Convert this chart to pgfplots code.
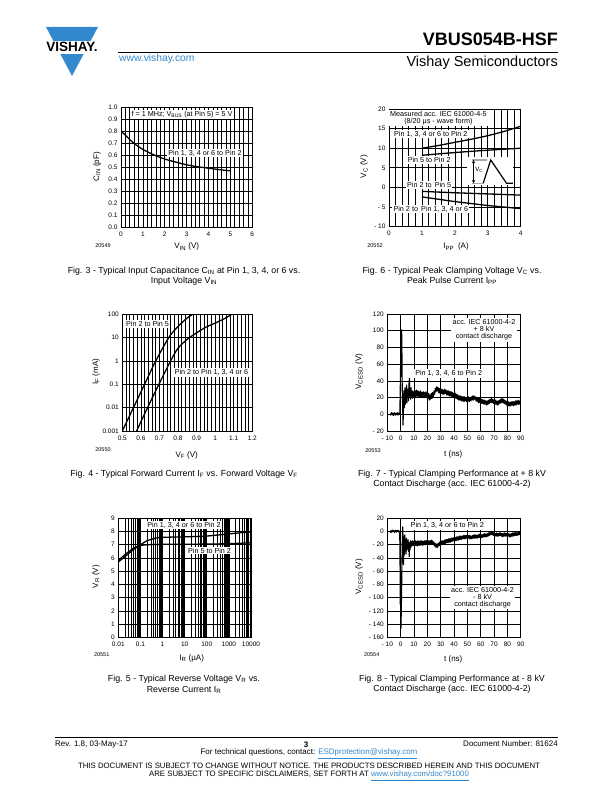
\documentclass[border=0pt]{standalone}
\usepackage{fontspec}
\setmainfont{Liberation Sans}
\usepackage{pgfplots}
\pgfplotsset{compat=1.18}
\definecolor{vblue}{RGB}{52,136,206}
\newcommand{\fs}[1]{\fontsize{#1}{#1}\selectfont}
\pgfplotsset{
  ds/.style={
    scale only axis, anchor=south west,
    axis line style={line width=0.9pt},
    major tick length=0pt, minor tick length=0pt,
    grid=major,
    major grid style={black,line width=0.7pt},
    minor grid style={black,line width=0.6pt},
    tick label style={font=\fs{6.5}},
    /pgf/number format/assume math mode=true,
    xticklabel style={yshift=-1pt},
    every axis plot/.append style={black, line width=1.3pt, mark=none},
  },
}
\tikzset{lab/.style={fill=white, inner sep=1.2pt, font=\fs{7.2}, align=center}}
\begin{document}
\begin{tikzpicture}[x=1pt,y=1pt]
\fill[white] (0,0) rectangle (612,792);
\path[use as bounding box] (0,0) rectangle (612,792);

% ---------------- header
\fill[vblue] (46,765) -- (98,765) -- (72,716) -- cycle;
\fill[white] (43,751) rectangle (101,738);
\node[anchor=base, font=\bfseries\fs{13.5}, inner sep=0] at (72,740) {VISHAY.};
\node[anchor=base east, font=\bfseries\fs{18}, inner sep=0] at (558,746) {VBUS054B-HSF};
\draw[line width=0.8pt] (118,740) -- (558,740);
\node[anchor=base west, text=vblue, font=\fs{10.3}, inner sep=0] at (119,730) {www.vishay.com};
\node[anchor=base east, font=\fs{14.5}, inner sep=0] at (558,725.5) {Vishay Semiconductors};

% ---------------- footer
\draw[line width=0.8pt] (55,55) -- (558,55);
\node[anchor=base west, font=\fs{8}, inner sep=0] at (55,45.5) {Rev. 1.8, 03-May-17};
\node[anchor=base, font=\bfseries\fs{8}, inner sep=0] at (306,44.5) {3};
\node[anchor=base east, font=\fs{8}, inner sep=0] at (558,45.5) {Document Number: 81624};
\node[anchor=base, font=\fs{8}, inner sep=0] at (309,37) {For technical questions, contact: \textcolor{vblue}{\underline{ESDprotection@vishay.com}}};
\node[anchor=base, font=\fs{7.8}, inner sep=0] at (309,23.3) {THIS DOCUMENT IS SUBJECT TO CHANGE WITHOUT NOTICE. THE PRODUCTS DESCRIBED HEREIN AND THIS DOCUMENT};
\node[anchor=base, font=\fs{7.8}, inner sep=0] at (309,15) {ARE SUBJECT TO SPECIFIC DISCLAIMERS, SET FORTH AT \textcolor{vblue}{\underline{www.vishay.com/doc?91000}}};

% ================= Fig 3
\begin{axis}[ds, at={(121pt,564.3pt)}, width=131.3pt, height=120.4pt,
  xmin=0, xmax=6, ymin=0, ymax=1,
  xtick={0,1,2,3,4,5,6}, minor x tick num=4, xminorgrids=true,
  ytick={0,0.1,0.2,0.3,0.4,0.5,0.6,0.7,0.8,0.9,1},
  yticklabels={0.0,0.1,0.2,0.3,0.4,0.5,0.6,0.7,0.8,0.9,1.0}]
\node[lab] at (axis cs:2.79,0.94) {f = 1 MHz; V\textsubscript{BUS} (at Pin 5) = 5 V};
\node[lab] at (axis cs:3.84,0.62) {Pin 1, 3, 4 or 6 to Pin 2};
\addplot[smooth] coordinates {(0,0.80) (0.1,0.785) (0.25,0.76) (0.5,0.715) (0.75,0.68) (1,0.65) (1.5,0.605) (2,0.57) (2.5,0.545) (3,0.522) (3.5,0.506) (4,0.494) (4.5,0.482) (5,0.472)};
\end{axis}
\node[rotate=90, font=\fs{8}] at (97,625.3) {C\textsubscript{IN} (pF)};
\node[font=\fs{8}] at (186.7,545.3) {V\textsubscript{IN} (V)};
\node[font=\fs{5.5}] at (103,546) {20549};
\node[font=\fs{8.8}] at (184,521) {Fig. 3 - Typical Input Capacitance C\textsubscript{IN} at Pin 1, 3, 4, or 6 vs.};
\node[font=\fs{8.8}] at (184,511) {Input Voltage V\textsubscript{IN}};

% ================= Fig 6
\begin{axis}[ds, at={(389pt,565.3pt)}, width=131.7pt, height=117.7pt,
  xmin=0, xmax=4, ymin=-10, ymax=20,
  xtick={0,1,2,3,4}, minor x tick num=4, xminorgrids=true,
  ytick={-10,-5,0,5,10,15,20},
  yticklabels={- 10,- 5,0,5,10,15,20}]
\node[lab] at (axis cs:1.5,17.7) {Measured acc. IEC 61000-4-5\\(8/20 µs - wave form)};
\node[lab] at (axis cs:1.27,13.6) {Pin 1, 3, 4 or 6 to Pin 2};
\node[lab] at (axis cs:1.22,7.0) {Pin 5 to Pin 2};
\node[lab] at (axis cs:1.22,0.7) {Pin 2 to\, Pin 5};
\node[lab] at (axis cs:1.27,-5.5) {Pin 2 to\, Pin 1, 3, 4 or 6};
\fill[white] (axis cs:2.37,0.63) rectangle (axis cs:3.77,7.77);
\addplot[gray!70, line width=1.1pt] coordinates {(2.52,7.0) (2.98,7.0)};
\addplot[gray!70, line width=1.1pt] coordinates {(2.52,1.06) (2.85,1.06)};
\addplot[black, line width=0.5pt, <->, >=stealth] coordinates {(2.57,7.0) (2.57,1.06)};
\addplot[black, line width=1.2pt] coordinates {(2.86,1.06) (3.09,7.0) (3.57,1.06) (3.76,1.06)};
\node[font=\fs{6.5}, inner sep=0.5pt] at (axis cs:2.74,4.4) {V\textsubscript{C}};
\addplot[smooth] coordinates {(1,10.0) (1.5,10.7) (2,11.5) (2.5,12.3) (3,13.2) (3.5,14.3) (4,15.6)};
\addplot[smooth] coordinates {(1,8.2) (2,8.9) (3,9.5) (4,10.0)};
\addplot[smooth] coordinates {(1,-1.0) (2,-1.35) (3,-1.65) (4,-1.95)};
\addplot[smooth] coordinates {(1,-2.4) (1.5,-3.0) (2,-3.6) (2.5,-4.1) (3,-4.6) (3.5,-5.0) (4,-5.4)};
\end{axis}
\node[rotate=90, font=\fs{8}] at (364,625.3) {V\textsubscript{C} (V)};
\node[font=\fs{8}] at (456,545.3) {I\textsubscript{PP}\enspace(A)};
\node[font=\fs{5.5}] at (375,546) {20552};
\node[font=\fs{8.8}] at (452,521) {Fig. 6 - Typical Peak Clamping Voltage V\textsubscript{C} vs.};
\node[font=\fs{8.8}] at (452,511) {Peak Pulse Current I\textsubscript{PP}};

% ================= Fig 4
\begin{axis}[ds, at={(122.3pt,361pt)}, width=130pt, height=116.7pt,
  ymode=log, xmin=0.5, xmax=1.2, ymin=0.001, ymax=100,
  xtick={0.5,0.6,0.7,0.8,0.9,1,1.1,1.2}, xticklabels={0.5,0.6,0.7,0.8,0.9,1,1.1,1.2},
  minor x tick num=4, xminorgrids=true,
  ytick={0.001,0.01,0.1,1,10,100}, yticklabels={0.001,0.01,0.1,1,10,100}, yminorgrids=false]
\node[lab] at (axis cs:0.636,38) {Pin 2 to Pin 5};
\node[lab] at (axis cs:0.98,0.32) {Pin 2 to Pin 1, 3, 4 or 6};
\addplot[smooth] coordinates {(0.5,0.001) (0.56,0.01) (0.62,0.1) (0.68,1) (0.75,10) (0.80,30) (0.85,70) (0.88,100)};
\addplot[smooth] coordinates {(0.577,0.001) (0.636,0.01) (0.697,0.1) (0.76,1) (0.80,3.5) (0.85,8.5) (0.9,16) (0.95,28) (1.0,42) (1.05,65) (1.09,100)};
\end{axis}
\node[rotate=90, font=\fs{8}] at (96,420.3) {I\textsubscript{F} (mA)};
\node[font=\fs{8}] at (186.7,337) {V\textsubscript{F} (V)};
\node[font=\fs{5.5}] at (103,342) {20550};
\node[font=\fs{8.8}] at (184,318) {Fig. 4 - Typical Forward Current I\textsubscript{F} vs. Forward Voltage V\textsubscript{F}};

% ================= Fig 7
\begin{axis}[ds, at={(387.3pt,361pt)}, width=133.4pt, height=117pt,
  xmin=-10, xmax=90, ymin=-20, ymax=120,
  xtick={-10,0,10,20,30,40,50,60,70,80,90}, xticklabels={- 10,0,10,20,30,40,50,60,70,80,90},
  ytick={-20,0,20,40,60,80,100,120}, yticklabels={- 20,0,20,40,60,80,100,120}]
\node[lab] at (axis cs:62.5,101) {acc. IEC 61000-4-2\\+ 8 kV\\contact discharge};
\node[lab] at (axis cs:36,49) {Pin 1, 3, 4, 6 to Pin 2};
\addplot[line width=1.1pt, line join=round] coordinates {
(-8,0.5) (-7.5,-1) (-7,2) (-6.5,0) (-6,1.5) (-5.5,-1.5) (-5,0.5) (-4.5,2) (-4,-1) (-3.5,1) (-3,-0.5) (-2.5,2) (-2,-1) (-1.5,1.5) (-1,0) (-0.6,2) (-0.3,30) (0,63) (0.2,45) (0.5,85) (0.75,101) (1.0,70) (1.2,30) (1.5,10) (1.8,-13) (2.1,5) (2.4,28) (2.7,8) (3.0,22) (3.3,32) (3.6,12) (3.9,25) (4.2,18) (4.5,35) (4.8,14) (5.1,28) (5.4,20) (5.7,30) (6.0,16) (6.3,38) (6.6,43) (6.9,22) (7.2,30) (7.5,18) (7.8,32) (8.1,20) (8.4,28) (8.7,19) (9,28) (9.5,20) (10,27) (10.5,19) (11,28) (11.5,21) (12,29) (12.5,22) (13,28) (13.5,20) (14,27) (14.5,21) (15,28) (15.5,20) (16,26) (16.5,21) (17,27) (17.5,20) (18,26) (18.5,21) (19,27) (19.5,20) (20,26) (20.5,19) (21,25) (21.5,17) (22,23) (22.5,18) (23,25) (23.5,19) (24,26) (24.5,21) (25,28) (25.5,24) (26,31) (26.5,27) (27,33) (27.5,28) (28,32) (28.5,26) (29,31) (29.5,25) (30,30) (30.5,25) (31,30) (31.5,24) (32,29) (32.5,24) (33,30) (33.5,25) (34,29) (34.5,23) (35,28) (35.5,23) (36,28) (36.5,22) (37,27) (37.5,22) (38,27) (38.5,21) (39,26) (39.5,21) (40,25) (40.5,20) (41,25) (41.5,19) (42,24) (42.5,18) (43,23) (43.5,17) (44,22) (44.5,17) (45,22) (45.5,16) (46,21) (46.5,16) (47,21) (47.5,15) (48,21) (48.5,16) (49,20) (49.5,15) (50,20) (50.5,16) (51,21) (51.5,15) (52,20) (52.5,16) (53,21) (53.5,17) (54,22) (54.5,17) (55,22) (55.5,18) (56,21) (56.5,16) (57,20) (57.5,15) (58,19) (58.5,14) (59,19) (59.5,14) (60,18) (60.5,13) (61,18) (61.5,13) (62,17) (62.5,12) (63,17) (63.5,12) (64,16) (64.5,11) (65,16) (65.5,12) (66,17) (66.5,13) (67,18) (67.5,14) (68,19) (68.5,14) (69,18) (69.5,13) (70,17) (70.5,12) (71,17) (71.5,12) (72,16) (72.5,11) (73,16) (73.5,12) (74,17) (74.5,13) (75,18) (75.5,14) (76,19) (76.5,14) (77,18) (77.5,13) (78,17) (78.5,12) (79,16) (79.5,11) (80,15) (80.5,10) (81,15) (81.5,10) (82,14) (82.5,10) (83,15) (83.5,11) (84,15) (84.5,10) (85,15) (85.5,11) (86,16) (86.5,11) (87,16) (87.5,12) (88,17) (88.5,12) (89,16) (89.5,12) (90,16)};
\end{axis}
\node[rotate=90, font=\fs{8}] at (359,420.3) {V\textsubscript{CESD} (V)};
\node[font=\fs{8}] at (453.3,338) {t (ns)};
\node[font=\fs{5.5}] at (373,341.3) {20553};
\node[font=\fs{8.8}] at (452,318) {Fig. 7 - Typical Clamping Performance at + 8 kV};
\node[font=\fs{8.8}] at (452,308) {Contact Discharge (acc. IEC 61000-4-2)};

% ================= Fig 5
\begin{axis}[ds, at={(118.3pt,154.7pt)}, width=132.7pt, height=119pt,
  xmode=log, xmin=0.01, xmax=10000, ymin=0, ymax=9,
  xtick={0.01,0.1,1,10,100,1000,10000}, xticklabels={0.01,0.1,1,10,100,1000,10000},
  xminorgrids=true, minor grid style={black,line width=0.9pt},
  ytick={0,1,2,3,4,5,6,7,8,9}]
\node[lab] at (axis cs:9.4,8.5) {Pin 1, 3, 4 or 6 to Pin 2};
\node[lab] at (axis cs:134,6.57) {Pin 5 to Pin 2};
\addplot[smooth] coordinates {(0.01,5.7) (0.02,6.1) (0.05,6.65) (0.1,7.0) (0.2,7.3) (0.5,7.5) (1,7.56) (10,7.6) (100,7.66) (1000,7.82) (10000,7.98)};
\addplot[smooth] coordinates {(0.01,5.8) (0.02,6.25) (0.05,6.75) (0.1,6.93) (0.2,7.0) (1,7.03) (10,7.04) (100,7.05) (1000,7.08) (10000,7.15)};
\end{axis}
\node[rotate=90, font=\fs{8}] at (96,215.3) {V\textsubscript{R} (V)};
\node[font=\fs{8}] at (191.7,133.7) {I\textsubscript{R} (µA)};
\node[font=\fs{5.5}] at (101.7,137) {20551};
\node[font=\fs{8.8}] at (184,113) {Fig. 5 - Typical Reverse Voltage V\textsubscript{R} vs.};
\node[font=\fs{8.8}] at (184,102.5) {Reverse Current I\textsubscript{R}};

% ================= Fig 8
\begin{axis}[ds, at={(387.3pt,154.7pt)}, width=133.4pt, height=119pt,
  xmin=-10, xmax=90, ymin=-160, ymax=20,
  xtick={-10,0,10,20,30,40,50,60,70,80,90}, xticklabels={- 10,0,10,20,30,40,50,60,70,80,90},
  ytick={-160,-140,-120,-100,-80,-60,-40,-20,0,20},
  yticklabels={- 160,- 140,- 120,- 100,- 80,- 60,- 40,- 20,0,20}]
\node[lab] at (axis cs:35,9) {Pin 1, 3, 4 or 6 to Pin 2};
\node[lab] at (axis cs:61.4,-100) {acc. IEC 61000-4-2\\- 8 kV\\contact discharge};
\addplot[line width=1.1pt, line join=round] coordinates {
(-8,1) (-7.5,-1.5) (-7,1.5) (-6.5,-1) (-6,2) (-5.5,0) (-5,1.5) (-4.5,-1.5) (-4,1) (-3.5,2) (-3,-1) (-2.5,1.5) (-2,0) (-1.5,1.5) (-1,-1) (-0.7,-5) (-0.5,-30) (-0.3,-110) (0,-60) (0.25,-146) (0.5,-120) (0.8,-80) (1.1,-30) (1.4,0) (1.6,7) (1.9,-20) (2.2,-50) (2.5,-8) (2.8,-35) (3.1,-5) (3.4,-30) (3.7,-12) (4.0,-34) (4.3,-10) (4.6,-28) (4.9,-14) (5.2,-25) (5.5,-12) (5.8,-30) (6.1,-16) (6.4,-38) (6.7,-20) (7.0,-28) (7.3,-14) (7.6,-24) (7.9,-15) (8.2,-22) (8.5,-15) (8.8,-21) (9.1,-14) (9.5,-21) (10,-15) (10.5,-22) (11,-14) (11.5,-21) (12,-15) (12.5,-22) (13,-14) (13.5,-21) (14,-15) (14.5,-21) (15,-14) (15.5,-20) (16,-14) (16.5,-21) (17,-15) (17.5,-20) (18,-14) (18.5,-20) (19,-14) (19.5,-19) (20,-13) (20.5,-19) (21,-14) (21.5,-20) (22,-14) (22.5,-19) (23,-13) (23.5,-19) (24,-14) (24.5,-20) (25,-16) (25.5,-22) (26,-18) (26.5,-24) (27,-19) (27.5,-24) (28,-18) (28.5,-22) (29,-16) (29.5,-21) (30,-15) (30.5,-20) (31,-14) (31.5,-19) (32,-14) (32.5,-19) (33,-13) (33.5,-18) (34,-12) (34.5,-17) (35,-12) (35.5,-17) (36,-11) (36.5,-16) (37,-11) (37.5,-16) (38,-10) (38.5,-15) (39,-10) (39.5,-14) (40,-9) (40.5,-14) (41,-9) (41.5,-14) (42,-8) (42.5,-13) (43,-8) (43.5,-13) (44,-7) (44.5,-12) (45,-7) (45.5,-12) (46,-7) (46.5,-11) (47,-6) (47.5,-11) (48,-6) (48.5,-11) (49,-6) (49.5,-10) (50,-5) (50.5,-10) (51,-6) (51.5,-11) (52,-6) (52.5,-11) (53,-7) (53.5,-11) (54,-6) (54.5,-10) (55,-5) (55.5,-10) (56,-5) (56.5,-10) (57,-6) (57.5,-10) (58,-5) (58.5,-9) (59,-4) (59.5,-9) (60,-4) (60.5,-9) (61,-5) (61.5,-9) (62,-4) (62.5,-8) (63,-3) (63.5,-8) (64,-4) (64.5,-8) (65,-3) (65.5,-7) (66,-2) (66.5,-6) (67,-1) (67.5,-5) (68,0) (68.5,-5) (69,-1) (69.5,-6) (70,-2) (70.5,-7) (71,-3) (71.5,-7) (72,-2) (72.5,-7) (73,-3) (73.5,-7) (74,-2) (74.5,-6) (75,-2) (75.5,-7) (76,-3) (76.5,-8) (77,-3) (77.5,-7) (78,-2) (78.5,-7) (79,-3) (79.5,-7) (80,-2) (80.5,-7) (81,-3) (81.5,-8) (82,-4) (82.5,-8) (83,-3) (83.5,-7) (84,-2) (84.5,-7) (85,-2) (85.5,-6) (86,-1) (86.5,-6) (87,-2) (87.5,-6) (88,-1) (88.5,-5) (89,-1) (89.5,-5) (90,-2)};
\end{axis}
\node[rotate=90, font=\fs{8}] at (359,215.3) {V\textsubscript{CESD} (V)};
\node[font=\fs{8}] at (453.3,133) {t (ns)};
\node[font=\fs{5.5}] at (371.7,137) {20554};
\node[font=\fs{8.8}] at (452,113) {Fig. 8 - Typical Clamping Performance at - 8 kV};
\node[font=\fs{8.8}] at (452,102.5) {Contact Discharge (acc. IEC 61000-4-2)};
\end{tikzpicture}
\end{document}
